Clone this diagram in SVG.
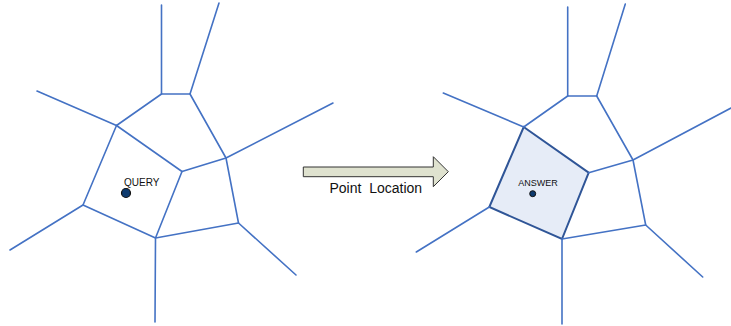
<svg xmlns="http://www.w3.org/2000/svg" width="731" height="326" viewBox="0 0 731 326">
  <style>
    .edge { stroke: #4472C4; stroke-width: 1.6; fill: none; stroke-linecap: round; stroke-linejoin: round; }
    .lbl { font-family: "Liberation Sans", Arial, sans-serif; fill: #111; }
  </style>
  <rect width="731" height="326" fill="#ffffff"/>

  <!-- Voronoi diagram before the query -->
  <g id="voronoi-query">
    <g class="edge">
      <path d="M161.5,5 V94 H190 L219,3"/>
      <path d="M161.5,94 L116.5,125.5 L37,91"/>
      <path d="M116.5,125.5 L182,171.5 L226,158 L190,94"/>
      <path d="M226,158 L333,103"/>
      <path d="M116.5,125.5 L83,205 L10,250"/>
      <path d="M83,205 L155.5,238 L182,171.5"/>
      <path d="M226,158 L238.5,223 L155.5,238 L155,322"/>
      <path d="M238.5,223 L296,275"/>
    </g>
    <g id="query-point">
      <text class="lbl" x="124" y="186" font-size="10">QUERY</text>
      <circle cx="126" cy="193" r="4.5" fill="#0d3a6e" stroke="#111" stroke-width="1.2"/>
    </g>
  </g>

  <!-- Transition arrow -->
  <g id="point-location">
    <path d="M303.3,167 H433.3 V156.7 L448.3,171.7 L433.3,186.7 V176.7 H303.3 Z" fill="#dfe2cf" stroke="#333" stroke-width="1"/>
    <text class="lbl" x="329.5" y="193" font-size="14" xml:space="preserve">Point  Location</text>
  </g>

  <!-- Voronoi diagram with the located cell -->
  <g id="voronoi-answer">
    <path id="answer-cell" d="M523.7,127 L588.7,172.7 L562,239 L489.3,207 Z" fill="#e6ecf7" stroke="#2f5597" stroke-width="2"/>
    <g class="edge">
      <path d="M567.7,7 V96 H596.7 L625.3,4"/>
      <path d="M567.7,96 L523.7,127 L443.3,93"/>
      <path d="M588.7,172.7 L633,160 L596.7,96"/>
      <path d="M633,160 L731,108"/>
      <path d="M489.3,207 L416.3,252"/>
      <path d="M633,160 L645.7,225 L562,239 L562,324"/>
      <path d="M645.7,225 L702.7,277"/>
    </g>
    <g id="answer-point">
      <text class="lbl" x="518.3" y="185.7" font-size="9">ANSWER</text>
      <circle cx="532.7" cy="193.7" r="3" fill="#0d3a6e" stroke="#111" stroke-width="1"/>
    </g>
  </g>
</svg>
